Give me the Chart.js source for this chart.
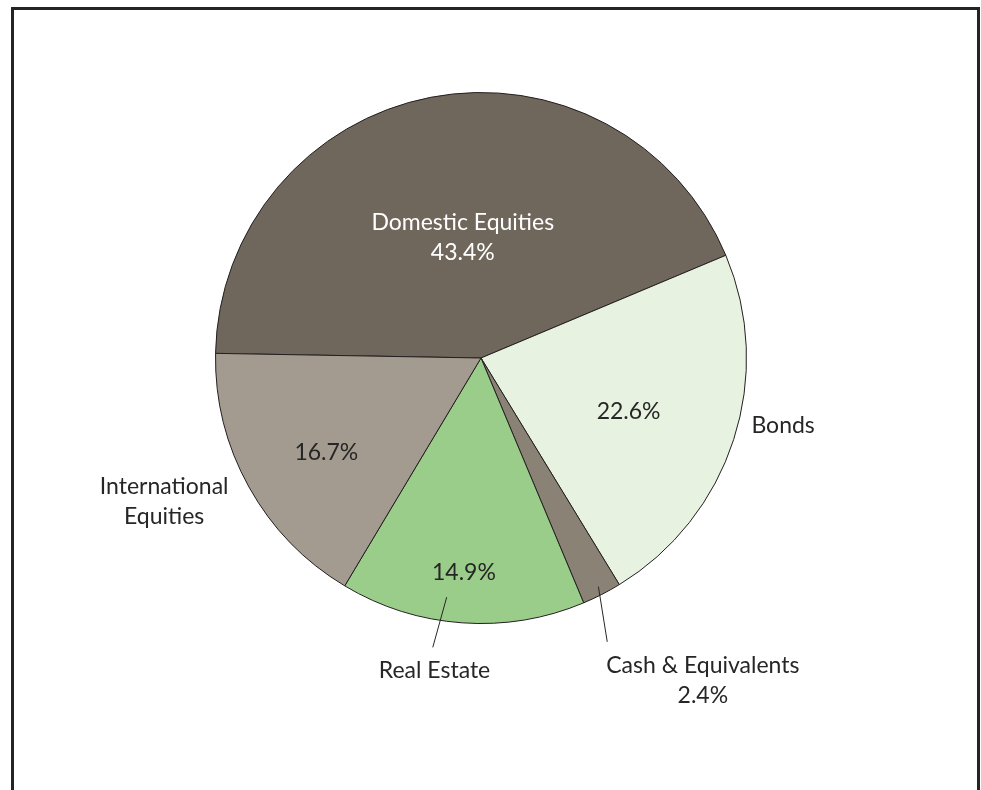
<!DOCTYPE html>
<html>
<head>
<meta charset="utf-8">
<script src="https://cdn.jsdelivr.net/npm/chart.js@4/dist/chart.umd.min.js"></script>
<style>
  html, body { margin: 0; padding: 0; background: #fff; overflow: hidden; }
  #frame {
    position: absolute; left: 11px; top: 7px; width: 969px; height: 800px;
    border: 3px solid #262324; box-sizing: border-box;
  }
  #wrap { position: absolute; left: 0; top: 0; width: 981px; height: 790px; }
</style>
</head>
<body>
<div id="frame"></div>
<div id="wrap"><canvas id="pie-chart" width="981" height="790"></canvas></div>
<script>
const CATEGORIES = ['Domestic Equities', 'Bonds', 'Cash & Equivalents', 'Real Estate', 'International Equities'];
const SHARES     = [43.4, 22.6, 2.4, 14.9, 16.7];
const COLORS     = ['#6f675b', '#e8f2e1', '#8b8276', '#9acd8a', '#a39b8f'];

// label placement: r = fraction of radius, da = degrees off the slice middle
const LABEL_LAYOUT = [
  { inner: { r: 0.46, da: 2.3, lines: ['Domestic Equities', '{p}'], color: '#ffffff' } },
  { inner: { r: 0.592, da: 2.2, lines: ['{p}'] }, outer: { r: 1.166, da: -5.3, lines: ['Bonds'] } },
  { outer: { r: 1.476, da: -7.4, lines: ['Cash & Equivalents', '{p}'] }, leader: [[0.968, -0.1], [1.17, 3.1]] },
  { inner: { r: 0.81, da: 0.5, lines: ['{p}'] }, outer: { r: 1.19, da: 4.4, lines: ['Real Estate'] }, leader: [[0.91, 4.1], [1.105, 5.4]] },
  { inner: { r: 0.683, da: -2.4, lines: ['{p}'] }, outer: { r: 1.31, da: 4.7, lines: ['International', 'Equities'] } },
];

const FONT = '23px Lato, "Open Sans", sans-serif';
const LINE_H = 30;

const pieLabels = {
  id: 'pieLabels',
  afterDatasetsDraw(chart) {
    const ctx = chart.ctx;
    const meta = chart.getDatasetMeta(0);
    ctx.save();
    ctx.font = FONT;
    ctx.textAlign = 'center';
    ctx.textBaseline = 'middle';
    meta.data.forEach((arc, i) => {
      const lay = LABEL_LAYOUT[i];
      const mid = (arc.startAngle + arc.endAngle) / 2;
      const R = arc.outerRadius;
      const pt = (r, da) => {
        const a = mid + da * Math.PI / 180;
        return [arc.x + r * R * Math.cos(a), arc.y + r * R * Math.sin(a)];
      };
      const pct = SHARES[i].toFixed(1) + '%';
      ['inner', 'outer'].forEach((k) => {
        const t = lay[k];
        if (!t) return;
        const [x, y] = pt(t.r, t.da);
        ctx.fillStyle = t.color || '#262626';
        const n = t.lines.length;
        t.lines.forEach((ln, j) => {
          ctx.fillText(ln.replace('{p}', pct), x, y + (j - (n - 1) / 2) * LINE_H);
        });
      });
      if (lay.leader) {
        const [a, b] = lay.leader;
        const p1 = pt(a[0], a[1]);
        const p2 = pt(b[0], b[1]);
        ctx.strokeStyle = '#262626';
        ctx.lineWidth = 1;
        ctx.beginPath();
        ctx.moveTo(p1[0], p1[1]);
        ctx.lineTo(p2[0], p2[1]);
        ctx.stroke();
      }
    });
    ctx.restore();
  },
};

new Chart(document.getElementById('pie-chart').getContext('2d'), {
  type: 'pie',
  data: {
    labels: CATEGORIES,
    datasets: [{
      data: SHARES,
      backgroundColor: COLORS,
      borderColor: '#231f20',
      borderWidth: 1,
    }],
  },
  options: {
    responsive: false,
    animation: false,
    rotation: -89,
    layout: { padding: { left: 215, right: 234, top: 92, bottom: 166 } },
    plugins: {
      legend: { display: false },
      tooltip: { enabled: false },
    },
  },
  plugins: [pieLabels],
});
</script>
</body>
</html>
